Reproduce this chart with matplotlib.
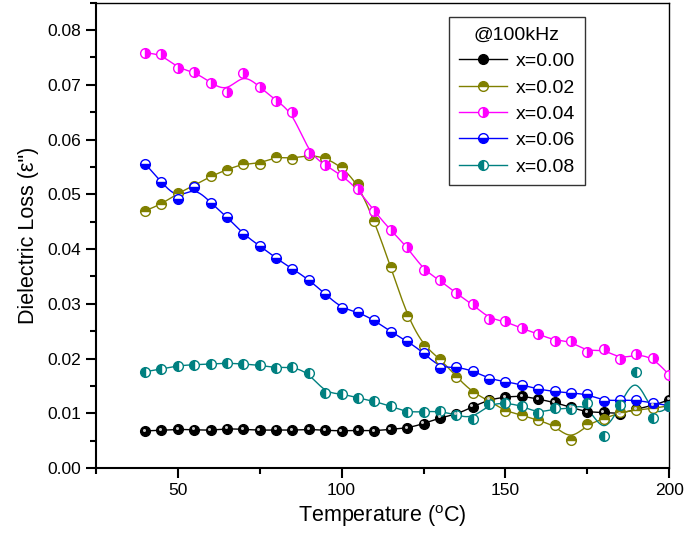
import numpy as np
import matplotlib
matplotlib.use("Agg")
import matplotlib.pyplot as plt
from matplotlib.ticker import MultipleLocator, FormatStrFormatter
from matplotlib.transforms import offset_copy

plt.rcParams['font.family'] = ['Liberation Sans', 'DejaVu Sans']
plt.rcParams['mathtext.fontset'] = 'custom'
plt.rcParams['mathtext.rm'] = 'Liberation Sans'
plt.rcParams['mathtext.it'] = 'Liberation Sans:italic'

temperature = list(range(40, 201, 5))

loss_000 = [.0068, .0069, .0071, .0070, .0069, .0072, .0071, .0069, .0070, .0069, .0071,
            .0069, .0068, .0069, .0068, .0071, .0073, .0081, .0092, .0098, .0112, .0125,
            .0130, .0132, .0126, .0120, .0111, .0102, .0102, .0099, .0108, .0114, .0125]
loss_002 = [.0470, .0482, .0502, .0516, .0533, .0545, .0556, .0556, .0569, .0565, .0572,
            .0567, .0550, .0519, .0451, .0367, .0278, .0223, .0200, .0167, .0138, .0123,
            .0104, .0097, .0087, .0078, .0051, .0080, .0090, .0102, .0106, .0109, .0114]
loss_004 = [.0758, .0756, .0730, .0724, .0704, .0687, .0721, .0696, .0671, .0650, .0575,
            .0553, .0535, .0509, .0469, .0434, .0404, .0362, .0343, .0319, .0299, .0273,
            .0268, .0255, .0245, .0233, .0232, .0212, .0218, .0199, .0208, .0202, .0170]
loss_006 = [.0556, .0522, .0491, .0514, .0485, .0459, .0427, .0406, .0383, .0364, .0344,
            .0318, .0292, .0285, .0270, .0249, .0232, .0211, .0183, .0185, .0178, .0163,
            .0158, .0152, .0144, .0140, .0137, .0135, .0123, .0124, .0124, .0119, .0114]
loss_008 = [.0176, .0181, .0187, .0189, .0190, .0192, .0190, .0188, .0183, .0185, .0174,
            .0137, .0136, .0128, .0122, .0113, .0102, .0103, .0104, .0097, .0090, .0117,
            .0119, .0114, .0100, .0109, .0108, .0119, .0058, .0115, .0175, .0091, .0113]

labels = ['x=0.00', 'x=0.02', 'x=0.04', 'x=0.06', 'x=0.08']
colors = ['black', '#808000', '#FF00FF', '#0000FF', '#008080']
fills = ['full', 'top', 'right', 'bottom', 'left']
series = [loss_000, loss_002, loss_004, loss_006, loss_008]


def bspline(x, y, per_seg=20):
    # clamped uniform cubic B-spline (control points = data)
    px = np.concatenate([[x[0]] * 2, x, [x[-1]] * 2]).astype(float)
    py = np.concatenate([[y[0]] * 2, y, [y[-1]] * 2]).astype(float)
    t = np.linspace(0, 1, per_seg, endpoint=False)
    b0 = (1 - t) ** 3 / 6
    b1 = (3 * t ** 3 - 6 * t ** 2 + 4) / 6
    b2 = (-3 * t ** 3 + 3 * t ** 2 + 3 * t + 1) / 6
    b3 = t ** 3 / 6
    xs, ys = [], []
    for i in range(len(px) - 3):
        xs.append(b0 * px[i] + b1 * px[i + 1] + b2 * px[i + 2] + b3 * px[i + 3])
        ys.append(b0 * py[i] + b1 * py[i + 1] + b2 * py[i + 2] + b3 * py[i + 3])
    xs.append([x[-1]])
    ys.append([y[-1]])
    return np.concatenate(xs), np.concatenate(ys)


fig = plt.figure(figsize=(6.85, 5.35), dpi=100)
ax = fig.add_axes([0.140, 0.125, 0.837, 0.870])

T = np.array(temperature)
handles = []
for vals, lab, col, fs in zip(series, labels, colors, fills):
    v = np.array(vals)
    sx, sy = bspline(T, v)
    ax.plot(sx, sy, color=col, lw=1.0, zorder=2)
    ax.plot(T, v, ls='none', marker='o', ms=7, color=col, mec=col, mew=1.0,
            fillstyle=fs, markerfacecoloralt='white', zorder=3)
    h, = ax.plot([], [], color=col, lw=1.0, marker='o', ms=7, mec=col, mew=1.0,
                 fillstyle=fs, markerfacecoloralt='white')
    handles.append(h)
    if fs == 'full':
        tr = offset_copy(ax.transData, fig=fig, x=-1.3, y=1.3, units='dots')
        ax.plot(T, v, ls='none', marker='o', ms=2.2, color='#c8c8c8', mew=0,
                transform=tr, zorder=4)

ax.set_xlim(25, 200)
ax.set_ylim(0, 0.085)
ax.xaxis.set_major_locator(MultipleLocator(50))
ax.xaxis.set_minor_locator(MultipleLocator(25))
ax.yaxis.set_major_locator(MultipleLocator(0.01))
ax.yaxis.set_minor_locator(MultipleLocator(0.005))
ax.yaxis.set_major_formatter(FormatStrFormatter('%.2f'))
ax.tick_params(which='both', direction='out', top=False, right=False,
               labelsize=12.5, width=1.5)
ax.tick_params(which='major', length=7)
ax.tick_params(which='minor', length=4.5)
for s in ['left', 'bottom']:
    ax.spines[s].set_linewidth(1.5)
for s in ['top', 'right']:
    ax.spines[s].set_linewidth(1.0)

ax.set_xlabel(r'Temperature ($^{\mathrm{o}}$C)', fontsize=15.5, labelpad=4)
ax.set_ylabel('Dielectric Loss (ε")', fontsize=15.5, labelpad=6)

leg = ax.legend(handles, labels, title='@100kHz', loc='upper right',
                bbox_to_anchor=(0.853, 0.969), borderaxespad=0, fontsize=14,
                title_fontsize=14, numpoints=1, handlelength=2.5,
                fancybox=False, frameon=True, labelspacing=0.45,
                handletextpad=0.45, borderpad=0.5)
leg.get_frame().set_edgecolor('black')
leg.get_frame().set_linewidth(1.0)

fig.savefig('out.png', dpi=100)
